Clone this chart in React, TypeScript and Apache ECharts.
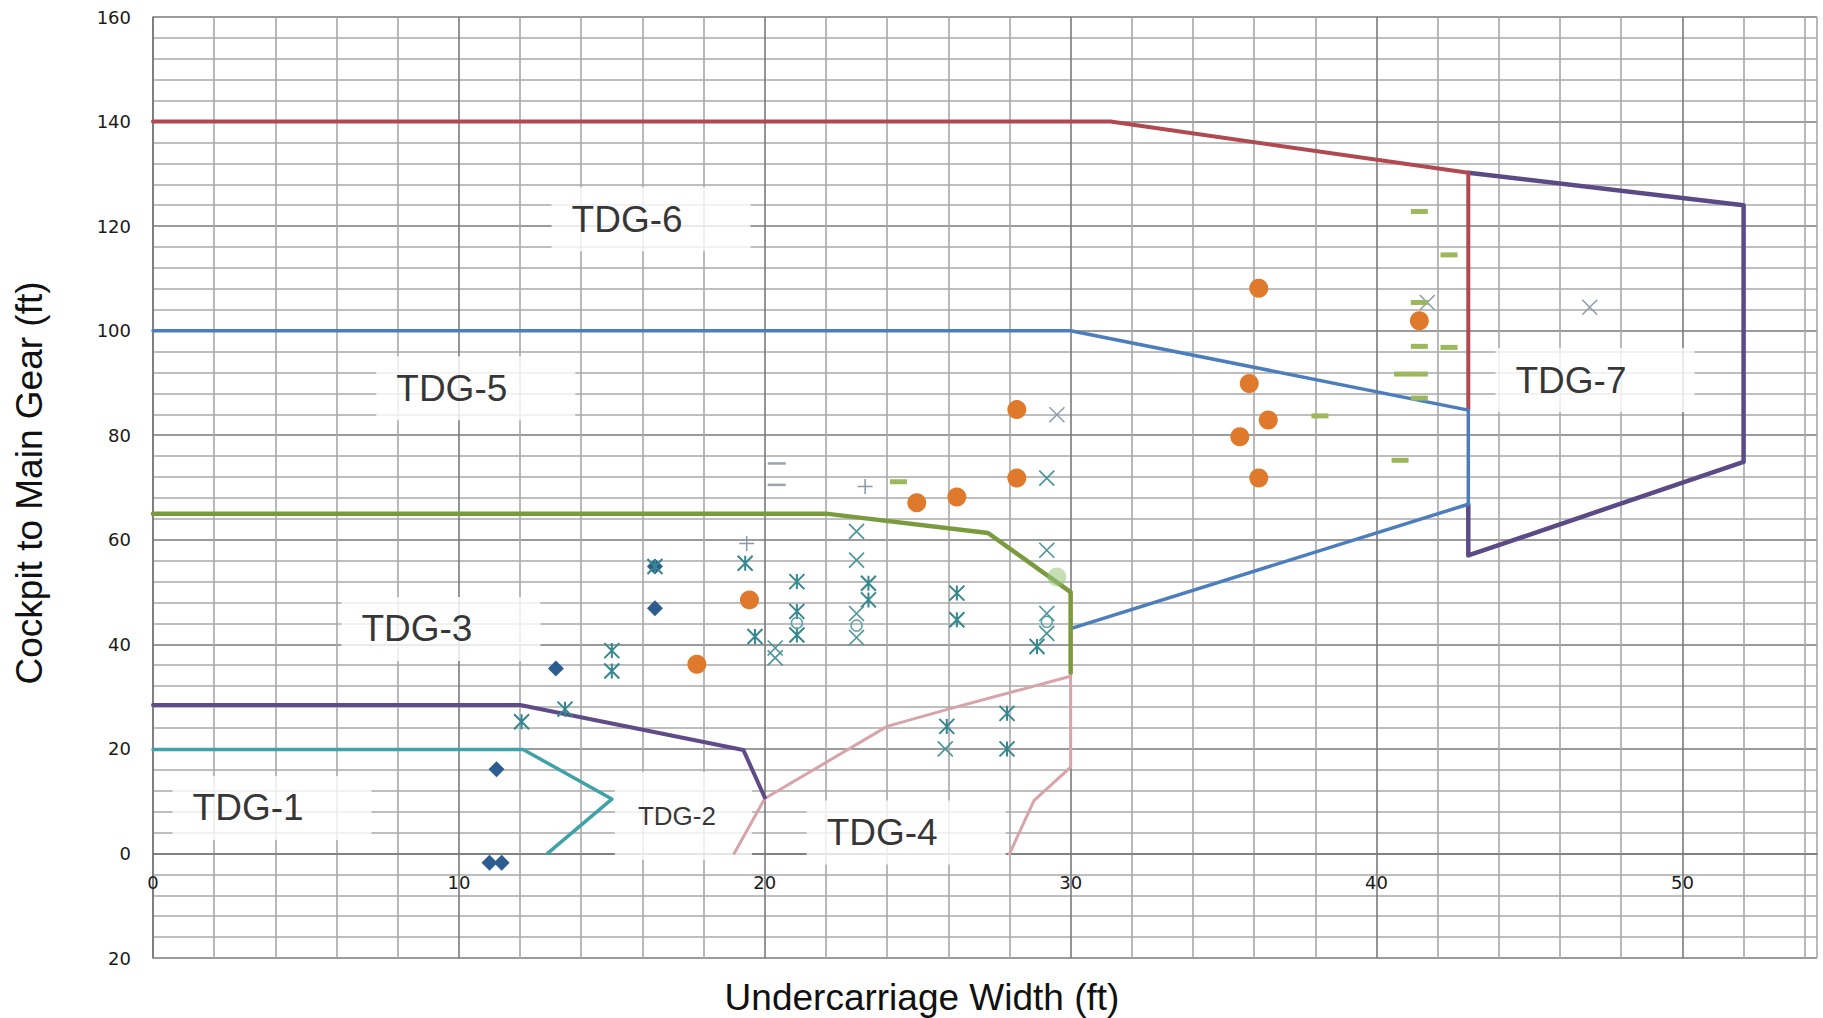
import React, { useEffect, useRef } from 'react';
import * as echarts from 'echarts';

// ---- Boundary lines (x = undercarriage width ft, y = cockpit to main gear ft) ----
const tdg6Line = [[0, 140], [31.3, 140], [43, 130.2], [43, 84.8]];
const tdg5Line = [[0, 100], [30, 100], [43, 84.8], [43, 66.8], [30, 43]];
const tdg3Line = [[0, 65], [22, 65], [27.3, 61.3], [30, 50], [30, 34.5]];
const tdg2Line = [[0, 28.4], [12, 28.4], [19.3, 19.8], [20, 10.7]];
const tdg1Line = [[0, 19.9], [12.1, 19.9], [15, 10.4], [12.9, 0]];
const tdg4LineA = [[19, 0], [20, 10.5], [24, 24.3], [26, 27.6], [30, 33.9]];
const tdg4LineB = [[28, -0.1], [28.8, 10.1], [30, 16.5], [30, 34]];
const tdg7Line = [[43, 66.8], [43, 57], [52, 74.9], [52, 124], [43, 130.2]];

// ---- Aircraft points ----
const blueDiamonds = [[11.0, -1.8], [11.4, -1.8], [11.23, 16.1], [13.17, 35.4], [16.41, 46.9], [16.41, 54.9]];
const orangeCircles = [
  [17.78, 36.2], [19.5, 48.5], [24.97, 67.1], [26.28, 68.2], [28.24, 84.9], [28.24, 71.8],
  [36.15, 108.1], [35.84, 89.9], [36.46, 82.9], [35.53, 79.7], [36.15, 71.8], [41.4, 101.9],
];
const tealStars = [
  [12.05, 25.2], [13.47, 27.6], [15.0, 38.8], [15.0, 34.9], [16.41, 54.9], [19.36, 55.5],
  [19.68, 41.5], [21.05, 52.0], [21.05, 46.3], [21.05, 41.8], [23.39, 51.7], [23.39, 48.5],
  [26.28, 49.8], [26.28, 44.7], [25.95, 24.3], [27.92, 26.8], [27.92, 20.0], [28.9, 39.6],
];
const tealCrosses = [
  [20.34, 39.3], [20.34, 37.4], [23.0, 61.6], [23.0, 56.1], [23.0, 45.9], [23.0, 41.3],
  [25.9, 20.0], [29.22, 71.8], [29.22, 58.0], [29.22, 45.9], [29.22, 42.1],
];
const tealRings = [[21.05, 44.1], [23.0, 43.6], [29.22, 44.3]];
const greyCrosses = [[29.55, 83.9], [41.66, 105.4], [46.97, 104.5]];
const greyPluses = [[19.41, 59.3], [23.28, 70.2]];
const greyDashes = [[20.39, 74.6], [20.39, 70.5]];
const greenDashes = [
  [24.37, 71.1], [38.15, 83.7], [41.4, 122.8], [42.37, 114.5], [41.4, 105.4], [41.4, 97.0],
  [42.37, 96.8], [40.85, 91.7], [41.4, 91.7], [41.4, 87.1], [40.77, 75.2],
];
const paleGreenDots = [[29.55, 52.9]];

// ---- Region labels (anchored at the left-middle of each white box) ----
const regionNames = ['TDG-1', 'TDG-2', 'TDG-3', 'TDG-4', 'TDG-5', 'TDG-6', 'TDG-7'];
const regionAnchors = [[0.64, 8.7], [15.1, 7.2], [6.16, 42.95], [21.37, 4.0], [7.3, 89.0], [13.03, 121.3], [43.89, 90.55]];

const xTitle = 'Undercarriage Width (ft)';
const yTitle = 'Cockpit to Main Gear (ft)';

const X_MIN = 0;
const X_MAX = 54.4;
const Y_MIN = -20;
const Y_MAX = 160;

const FONT = '"Liberation Sans", Arial, sans-serif';
const TICK_FONT = '"DejaVu Sans", Verdana, sans-serif';
const MAJOR = '#7a7a7a';
const MINOR = '#a8a8a8';
const gridColors = [MAJOR, MINOR, MINOR, MINOR, MINOR];

const GRID_TOP = 17;
const GRID_BOTTOM = 60;
const CHART_H = 1018;

const STAR = 'path://M0 0L10 10M0 10L10 0M5 0L5 10';
const CROSS = 'path://M0 0L10 10M0 10L10 0';
const PLUS = 'path://M5 0L5 10M0 5L10 5';

function lineSeries(name: string, data: number[][], color: string, width: number) {
  return {
    name,
    type: 'line',
    data,
    z: 3,
    symbol: 'none',
    silent: true,
    lineStyle: { color, width, join: 'round', cap: 'round' },
  };
}

function strokeScatter(name: string, data: number[][], symbol: string, size: number, color: string, width: number) {
  return {
    name,
    type: 'scatter',
    data,
    z: 4,
    symbol,
    symbolSize: size,
    silent: true,
    itemStyle: { color: 'rgba(0,0,0,0)', borderColor: color, borderWidth: width, opacity: 1 },
  };
}

function fillScatter(name: string, data: number[][], symbol: string, size: number | number[], color: string) {
  return {
    name,
    type: 'scatter',
    data,
    z: 4,
    symbol,
    symbolSize: size,
    silent: true,
    itemStyle: { color, opacity: 1 },
  };
}

export default function App() {
  const ref = useRef<HTMLDivElement>(null);

  useEffect(() => {
    document.body.style.margin = '0';
    const chart = echarts.init(ref.current!, null, { renderer: 'svg' });
    const labelData = regionNames.map((n, i) => {
      const item: any = { name: n, value: regionAnchors[i] };
      if (n === 'TDG-2') {
        item.label = { fontSize: 26, lineHeight: 26, padding: [14, 36, 48, 23] };
      }
      return item;
    });

    // x axis crosses at y = 0 (Excel style): shift the bottom axis up to the zero line
    const plotH = CHART_H - GRID_TOP - GRID_BOTTOM;
    const zeroOffset = -plotH * (0 - Y_MIN) / (Y_MAX - Y_MIN);

    chart.setOption({
      animation: false,
      backgroundColor: '#ffffff',
      grid: { left: 153, top: GRID_TOP, right: 6, bottom: GRID_BOTTOM, containLabel: false },
      xAxis: {
        type: 'value',
        position: 'bottom',
        offset: zeroOffset,
        min: X_MIN,
        max: X_MAX,
        interval: 2,
        axisLine: { show: true, onZero: false, lineStyle: { color: MAJOR, width: 1.6 } },
        axisTick: { show: false },
        axisLabel: {
          margin: 20,
          fontFamily: TICK_FONT,
          fontSize: 18,
          color: '#1a1a1a',
          showMaxLabel: false,
          formatter: (v: number) => (Math.abs(v % 10) < 1e-6 ? String(v) : ''),
        },
        splitLine: { show: true, lineStyle: { color: gridColors, width: 1.6 } },
      },
      yAxis: {
        type: 'value',
        min: Y_MIN,
        max: Y_MAX,
        interval: 4,
        axisLine: { show: true, onZero: false, lineStyle: { color: MAJOR, width: 1.6 } },
        axisTick: { show: false },
        axisLabel: {
          margin: 22,
          fontFamily: TICK_FONT,
          fontSize: 18,
          color: '#1a1a1a',
          formatter: (v: number) => (Math.abs(v % 20) < 1e-6 ? String(Math.abs(v)) : ''),
        },
        splitLine: { show: true, lineStyle: { color: gridColors, width: 1.6 } },
      },
      graphic: [
        {
          type: 'text',
          x: 922,
          y: 997,
          style: { text: xTitle, fontSize: 37, fontFamily: FONT, fill: '#111', align: 'center', verticalAlign: 'middle' },
        },
        {
          type: 'text',
          x: 29,
          y: 483,
          rotation: Math.PI / 2,
          style: { text: yTitle, fontSize: 37, fontFamily: FONT, fill: '#111', align: 'center', verticalAlign: 'middle' },
        },
      ],
      series: [
        {
          name: 'Regions',
          type: 'scatter',
          z: 1,
          symbolSize: 0,
          silent: true,
          data: labelData,
          itemStyle: { color: 'rgba(0,0,0,0)' },
          label: {
            show: true,
            position: 'right',
            distance: 0,
            formatter: '{b}',
            color: '#000',
            fontFamily: FONT,
            fontSize: 37,
            lineHeight: 37,
            backgroundColor: '#ffffff',
            padding: [15, 68, 12, 20],
          },
        },
        lineSeries('TDG-7 boundary', tdg7Line, '#5c4a86', 4.5),
        lineSeries('TDG-6 boundary', tdg6Line, '#b04a50', 4),
        lineSeries('TDG-5 boundary', tdg5Line, '#4c7dbd', 3.5),
        lineSeries('TDG-3 boundary', tdg3Line, '#7a9a3e', 4.5),
        lineSeries('TDG-4 boundary A', tdg4LineA, '#d8a3ab', 3),
        lineSeries('TDG-4 boundary B', tdg4LineB, '#d8a3ab', 3),
        lineSeries('TDG-2 boundary', tdg2Line, '#5f4b88', 4),
        lineSeries('TDG-1 boundary', tdg1Line, '#3fa2a8', 3.5),
        fillScatter('Pale green', paleGreenDots, 'circle', 19, 'rgba(150,195,120,0.55)'),
        fillScatter('Blue diamonds', blueDiamonds, 'diamond', 16, '#2d5d8f'),
        strokeScatter('Teal stars', tealStars, STAR, 15, '#36878f', 2),
        strokeScatter('Teal crosses', tealCrosses, CROSS, 15, '#4a949a', 1.6),
        strokeScatter('Teal rings', tealRings, 'circle', 11, '#5a9ea3', 1.4),
        strokeScatter('Grey crosses', greyCrosses, CROSS, 15, '#8a98aa', 1.4),
        strokeScatter('Grey pluses', greyPluses, PLUS, 15, '#8a98aa', 1.5),
        fillScatter('Grey dashes', greyDashes, 'rect', [18, 2.5], '#9aa3ae'),
        fillScatter('Green dashes', greenDashes, 'rect', [17, 5], '#9bb85c'),
        fillScatter('Orange circles', orangeCircles, 'circle', 19, '#df7a2d'),
      ],
    });
    return () => chart.dispose();
  }, []);

  return <div ref={ref} style={{ position: 'absolute', left: 0, top: 0, width: 1823, height: 1018 }} />;
}
